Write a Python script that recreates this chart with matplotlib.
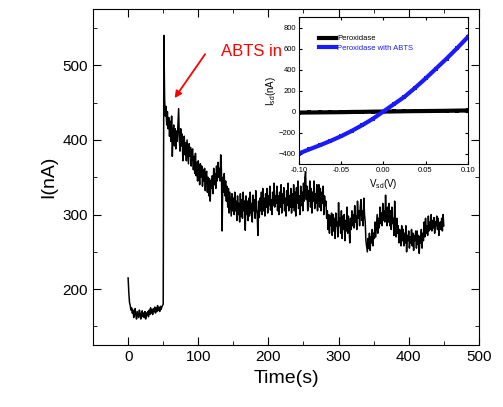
import numpy as np
import matplotlib.pyplot as plt

plt.rcParams['font.family'] = ['Liberation Sans', 'DejaVu Sans']

# current trace (1 s per sample)
t_base = np.arange(0, 50)
i_base = [215, 195, 182, 178, 172, 175, 168, 172, 162, 170,
          174, 165, 160, 170, 166, 162, 172, 168, 160, 166,
          171, 163, 168, 162, 170, 160, 168, 165, 170, 163,
          172, 166, 175, 168, 172, 166, 174, 170, 176, 168,
          175, 170, 178, 172, 175, 170, 177, 173, 176, 178]
t_jump = [50, 51]
i_jump = [180, 540]
t_after = np.arange(52, 451)
i_after = [
    455, 432, 445, 420, 438, 415, 430, 405, 425, 398, 432, 378, 410, 420, 392, 415, 388, 412, 398, 420,
    442, 400, 385, 415, 392, 408, 372, 398, 405, 380, 396, 372, 400, 385, 368, 395, 378, 390, 365, 385,
    388, 360, 378, 355, 382, 352, 370, 345, 372, 358, 340, 368, 350, 365, 338, 360, 345, 362, 332, 355,
    358, 330, 350, 325, 348, 318, 345, 335, 352, 328, 362, 340, 355, 335, 365, 345, 370, 350, 362, 345,
    380, 360, 278, 350, 330, 355, 325, 345, 318, 338, 310, 335, 302, 330, 315, 298, 328, 305, 322, 300,
    330, 305, 318, 292, 325, 300, 315, 290, 328, 298, 320, 295, 330, 305, 318, 279, 325, 300, 318, 292,
    322, 298, 330, 302, 315, 290, 326, 305, 320, 295, 332, 308, 300, 272, 318, 296, 322, 305, 330, 300,
    335, 305, 322, 298, 328, 310, 335, 302, 325, 312, 338, 306, 320, 300, 330, 312, 342, 310, 325, 315,
    338, 305, 325, 300, 330, 310, 340, 302, 328, 315, 336, 305, 322, 298, 332, 312, 342, 305, 325, 310,
    335, 302, 328, 310, 340, 305, 330, 298, 336, 315, 345, 308, 325, 300, 338, 312, 330, 305, 342, 318,
    350, 357, 320, 338, 305, 332, 318, 345, 310, 335, 302, 330, 318, 345, 308, 328, 315, 340, 305, 332,
    340, 310, 335, 305, 330, 315, 338, 300, 325, 312, 318, 295, 305, 280, 300, 275, 298, 285, 302, 272,
    300, 278, 295, 268, 302, 285, 290, 270, 316, 285, 295, 275, 305, 268, 298, 280, 300, 265, 292, 278,
    310, 275, 298, 282, 262, 295, 280, 305, 285, 300, 282, 312, 290, 298, 280, 318, 295, 305, 285, 310,
    320, 292, 305, 285, 322, 300, 290, 265, 258, 250, 268, 255, 275, 252, 270, 262, 280, 258, 275, 268,
    290, 270, 285, 300, 275, 295, 282, 310, 288, 302, 285, 315, 292, 305, 290, 326, 300, 285, 310, 290,
    315, 285, 305, 280, 310, 288, 295, 272, 318, 282, 270, 295, 275, 285, 262, 280, 270, 258, 285, 265,
    280, 258, 275, 262, 285, 250, 272, 265, 278, 255, 270, 262, 280, 258, 275, 252, 272, 265, 278, 255,
    278, 260, 272, 248, 270, 262, 280, 255, 275, 265, 290, 270, 295, 275, 285, 272, 298, 278, 290, 280,
    300, 278, 292, 282, 296, 275, 290, 285, 298, 280, 295, 272, 288, 290, 280, 295, 278, 300, 285]

time = np.concatenate([t_base, t_jump, t_after])
current = np.concatenate([i_base, i_jump, i_after])

# inset I-V curves
v_sd = np.linspace(-0.1, 0.1, 17)
i_perox = [-10, -9, -8, -7, -6, -4, -3, -1, 0, 1, 3, 4, 5, 6, 7, 9, 10]
i_abts = [-400, -360, -321, -280, -235, -185, -130, -70, 0,
          70, 140, 225, 315, 410, 505, 605, 710]
blue = '#1a1aff'

fig = plt.figure(figsize=(5.03, 4.07), dpi=100)
ax = fig.add_axes([0.185, 0.152, 0.767, 0.825])
ax.plot(time, current, color='black', lw=1.1)
ax.set_xlim(-50, 500)
ax.set_ylim(125, 575)
ax.set_xticks([0, 100, 200, 300, 400, 500])
ax.set_yticks([200, 300, 400, 500])
ax.set_xticks(np.arange(-50, 501, 50), minor=True)
ax.set_yticks(np.arange(150, 576, 50), minor=True)
ax.tick_params(which='both', direction='in', top=True, right=True, labelsize=11)
ax.tick_params(which='major', length=6)
ax.tick_params(which='minor', length=3)
ax.set_xlabel('Time(s)', fontsize=14)
ax.set_ylabel('I(nA)', fontsize=14)

ax.text(132, 512, 'ABTS in', color='red', fontsize=12)
ax.annotate('', xy=(64, 453), xytext=(112, 518),
            arrowprops=dict(arrowstyle='-|>', color='red', lw=1.3,
                            mutation_scale=10))

ins = fig.add_axes([0.594, 0.597, 0.336, 0.361])
ins.plot(v_sd, i_perox, color='black', lw=3, marker='s', ms=3, mew=0,
         label='Peroxidase')
ins.plot(v_sd, i_abts, color=blue, lw=3, marker='s', ms=3, mew=0,
         label='Peroxidase with ABTS')
ins.set_xlim(-0.1, 0.1)
ins.set_ylim(-500, 900)
ins.set_xticks([-0.1, -0.05, 0, 0.05, 0.1])
ins.set_xticklabels(['-0.10', '-0.05', '0.00', '0.05', '0.10'])
ins.set_yticks(np.arange(-400, 801, 200))
ins.tick_params(direction='in', top=True, right=True, labelsize=5.5,
                length=2.5, pad=2)
ins.set_xlabel(r'V$_\mathregular{sd}$(V)', fontsize=7, labelpad=2)
ins.set_ylabel(r'I$_\mathregular{sd}$(nA)', fontsize=7, labelpad=1)
leg = ins.legend(loc='upper left', bbox_to_anchor=(0.1, 0.9), frameon=False,
                 fontsize=5.5, handlelength=2.2, handletextpad=0.2,
                 labelspacing=0.3, borderaxespad=0)
for txt, c in zip(leg.get_texts(), ['black', blue]):
    txt.set_color(c)

plt.savefig('out.png')
